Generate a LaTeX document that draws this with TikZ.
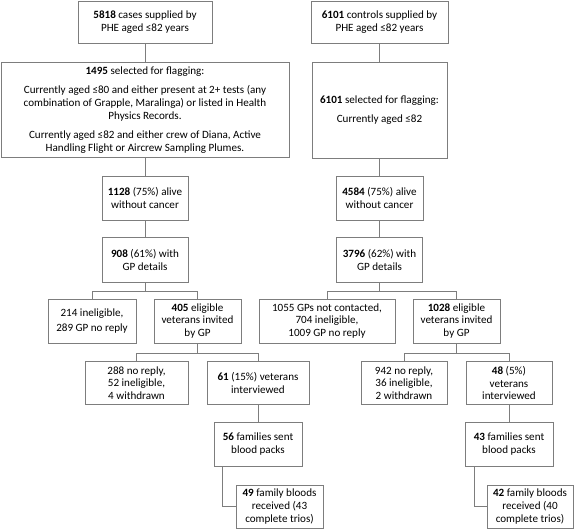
\documentclass[tikz,border=0pt]{standalone}
\usepackage{fontspec}
\setmainfont{Carlito}
\definecolor{boxgray}{RGB}{125,125,125}
\tikzset{
  box/.style={draw=boxgray, line width=0.9pt, align=center, inner sep=1pt,
    font=\fontsize{11.1}{12.6}\selectfont},
  link/.style={draw=boxgray, line width=0.9pt}
}
\begin{document}
\begin{tikzpicture}[x=1pt,y=-1pt]
  \useasboundingbox (0,0) rectangle (575,529);
  % cases
  \draw
    (145,22) node[box, minimum width=134, minimum height=42] (a0){\textbf{5818} cases supplied by\\[1pt]PHE aged ≤82 years}
    (145,110) node[box, minimum width=288, minimum height=95] (a1){\textbf{1495} selected for flagging:\\[7pt]
      Currently aged ≤80 and either present at 2+ tests (any\\
      combination of Grapple, Maralinga) or listed in Health\\
      Physics Records.\\[7pt]
      Currently aged ≤82 and either crew of Diana, Active\\
      Handling Flight or Aircrew Sampling Plumes.}
    (145,198) node[box, minimum width=86, minimum height=44] (a2){\textbf{1128} (75\%) alive\\without cancer}
    (145,260) node[box, minimum width=86, minimum height=45] (a3){\textbf{908} (61\%) with\\GP details}
    (92,321) node[box, minimum width=88, minimum height=44] (a4){214 ineligible,\\[2pt]289 GP no reply}
    (197.5,321) node[box, minimum width=87, minimum height=44] (a5){\textbf{405} eligible\\veterans invited\\by GP}
    (136.5,383) node[box, minimum width=103, minimum height=43] (a6){288 no reply,\\52 ineligible,\\4 withdrawn}
    (258,383) node[box, minimum width=102, minimum height=43] (a7){\textbf{61} (15\%) veterans\\interviewed}
    (258,444) node[box, minimum width=88, minimum height=44] (a8){\textbf{56} families sent\\blood packs}
    (279.5,506.5) node[box, minimum width=87, minimum height=43] (a9){\textbf{49} family bloods\\received (43\\complete trios)};
  % controls
  \draw
    (379.5,22) node[box, minimum width=137, minimum height=42] (b0){\textbf{6101} controls supplied by\\[1pt]PHE aged ≤82 years}
    (379.5,110) node[box, minimum width=135, minimum height=96] (b1){\textbf{6101} selected for flagging:\\[7pt]Currently aged ≤82}
    (379.5,198) node[box, minimum width=87, minimum height=44] (b2){\textbf{4584} (75\%) alive\\without cancer}
    (379.5,260) node[box, minimum width=86, minimum height=45] (b3){\textbf{3796} (62\%) with\\GP details}
    (327,321) node[box, minimum width=136, minimum height=44] (b4){1055 GPs not contacted,\\704 ineligible,\\1009 GP no reply}
    (456.5,321) node[box, minimum width=87, minimum height=44] (b5){\textbf{1028} eligible\\veterans invited\\by GP}
    (404,383) node[box, minimum width=86, minimum height=43] (b6){942 no reply,\\36 ineligible,\\2 withdrawn}
    (509,383) node[box, minimum width=86, minimum height=43] (b7){\textbf{48} (5\%)\\veterans\\interviewed}
    (509,444) node[box, minimum width=88, minimum height=44] (b8){\textbf{43} families sent\\blood packs}
    (530,506.5) node[box, minimum width=86, minimum height=43] (b9){\textbf{42} family bloods\\received (40\\complete trios)};
  \begin{scope}[link]
    \draw (a0) to (a1);
    \draw (a1) to (a2);
    \draw (a2) to (a3);
    \draw (a3.south) -- ++(0,8) coordinate (ja);
    \draw (a4.north) |- (ja) -| (a5.north);
    \draw (a5.south) -- ++(0,9.5) coordinate (jb);
    \draw (a6.north) |- (jb) -| (a7.north);
    \draw (a7) to (a8);
    \draw ([xshift=9]a8.south west) |- (a9.west);
    \draw (b0) to (b1);
    \draw (b1) to (b2);
    \draw (b2) to (b3);
    \draw (b3.south) -- ++(0,8) coordinate (jc);
    \draw (b4.north) |- (jc) -| (b5.north);
    \draw (b5.south) -- ++(0,9.5) coordinate (jd);
    \draw (b6.north) |- (jd) -| (b7.north);
    \draw (b7) to (b8);
    \draw ([xshift=10]b8.south west) |- (b9.west);
  \end{scope}
\end{tikzpicture}
\end{document}
